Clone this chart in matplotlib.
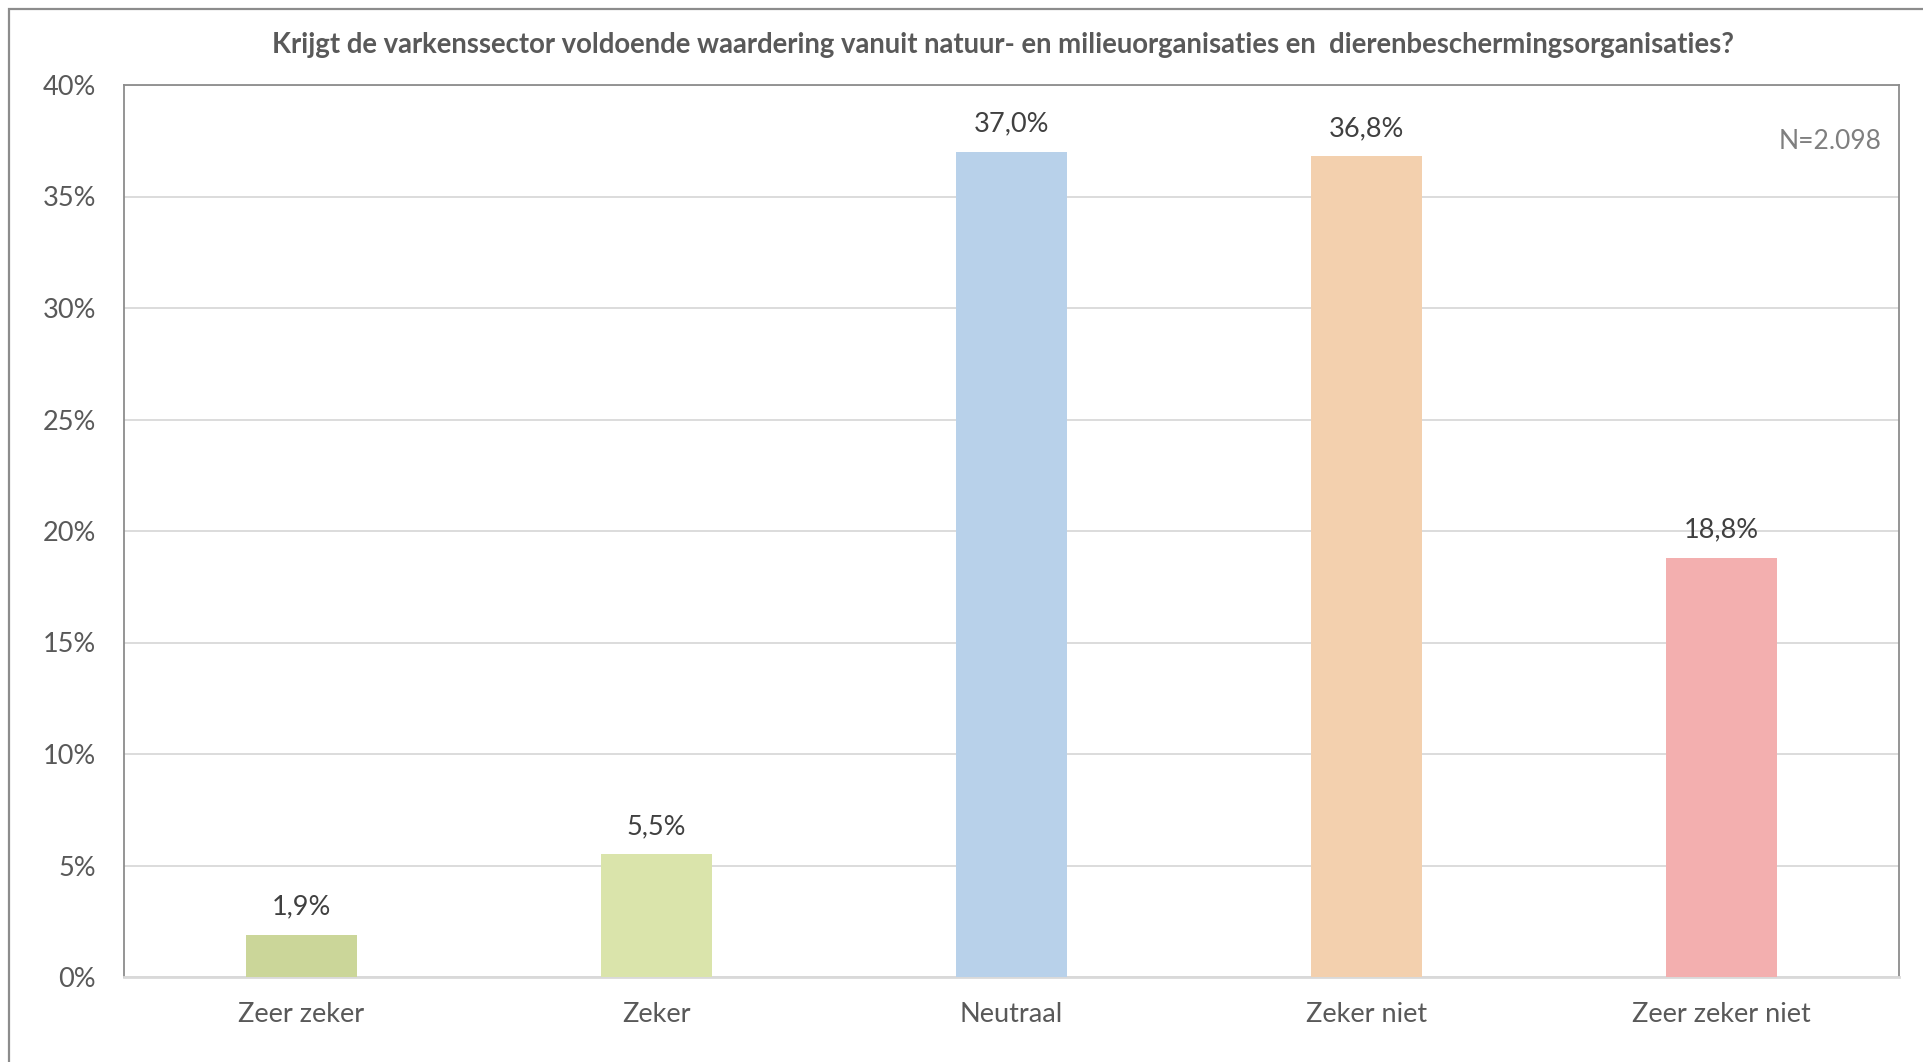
import matplotlib
matplotlib.use("Agg")
import matplotlib.pyplot as plt
from matplotlib.patches import Rectangle
from matplotlib.ticker import MultipleLocator, FuncFormatter

categories = ["Zeer zeker", "Zeker", "Neutraal", "Zeker niet", "Zeer zeker niet"]
values = [1.9, 5.5, 37.0, 36.8, 18.8]
labels = ["1,9%", "5,5%", "37,0%", "36,8%", "18,8%"]
colors = ["#CBD699", "#DAE4AB", "#B8D1EA", "#F3D0AE", "#F3AFAF"]
title = "Krijgt de varkenssector voldoende waardering vanuit natuur- en milieuorganisaties en  dierenbeschermingsorganisaties?"
note = "N=2.098"

plt.rcParams['font.family'] = ['Lato', 'DejaVu Sans']

W, H = 1924, 1062
fig = plt.figure(figsize=(W / 100, H / 100), dpi=100)
fig.patch.set_facecolor("white")

# outer frame
fig.add_artist(Rectangle((9 / W, -0.05), 1.2, 1 - 9 / H + 0.05, transform=fig.transFigure,
                         fill=False, edgecolor="#8C8C8C", linewidth=1.6))

left, right, top, bottom = 124, 1899, 85, 977
ax = fig.add_axes([left / W, 1 - bottom / H, (right - left) / W, (bottom - top) / H])

x = list(range(len(categories)))
ax.bar(x, values, width=0.315, color=colors, zorder=3)
ax.set_xlim(-0.5, len(categories) - 0.5)
ax.set_ylim(0, 40)
ax.yaxis.set_major_locator(MultipleLocator(5))
ax.yaxis.set_major_formatter(FuncFormatter(lambda v, p: f"{int(v)}%"))
ax.grid(axis="y", color="#D9D9D9", linewidth=1.3, zorder=0)
ax.set_xticks(x)
ax.set_xticklabels(categories)
ax.tick_params(axis="both", length=0, labelsize=19.5, colors="#595959")
ax.tick_params(axis="x", pad=18)
ax.tick_params(axis="y", pad=20)

for s in ["left", "top", "right"]:
    ax.spines[s].set_color("#8C8C8C")
    ax.spines[s].set_linewidth(1.3)
ax.spines["bottom"].set_color("#D9D9D9")
ax.spines["bottom"].set_linewidth(2)

for xi, v, lab in zip(x, values, labels):
    ax.annotate(lab, (xi, v), xytext=(0, 11), textcoords="offset points",
                ha="center", va="bottom", fontsize=19.5, color="#404040")

ax.text(0.99, 0.937, note, transform=ax.transAxes, ha="right", va="center",
        fontsize=19, color="#7F7F7F")

fig.text(1003 / W, 1 - 45 / H, title, ha="center", va="center", fontsize=19.8,
         fontweight="bold", color="#595959")

fig.savefig("out.png", dpi=100, facecolor="white")
